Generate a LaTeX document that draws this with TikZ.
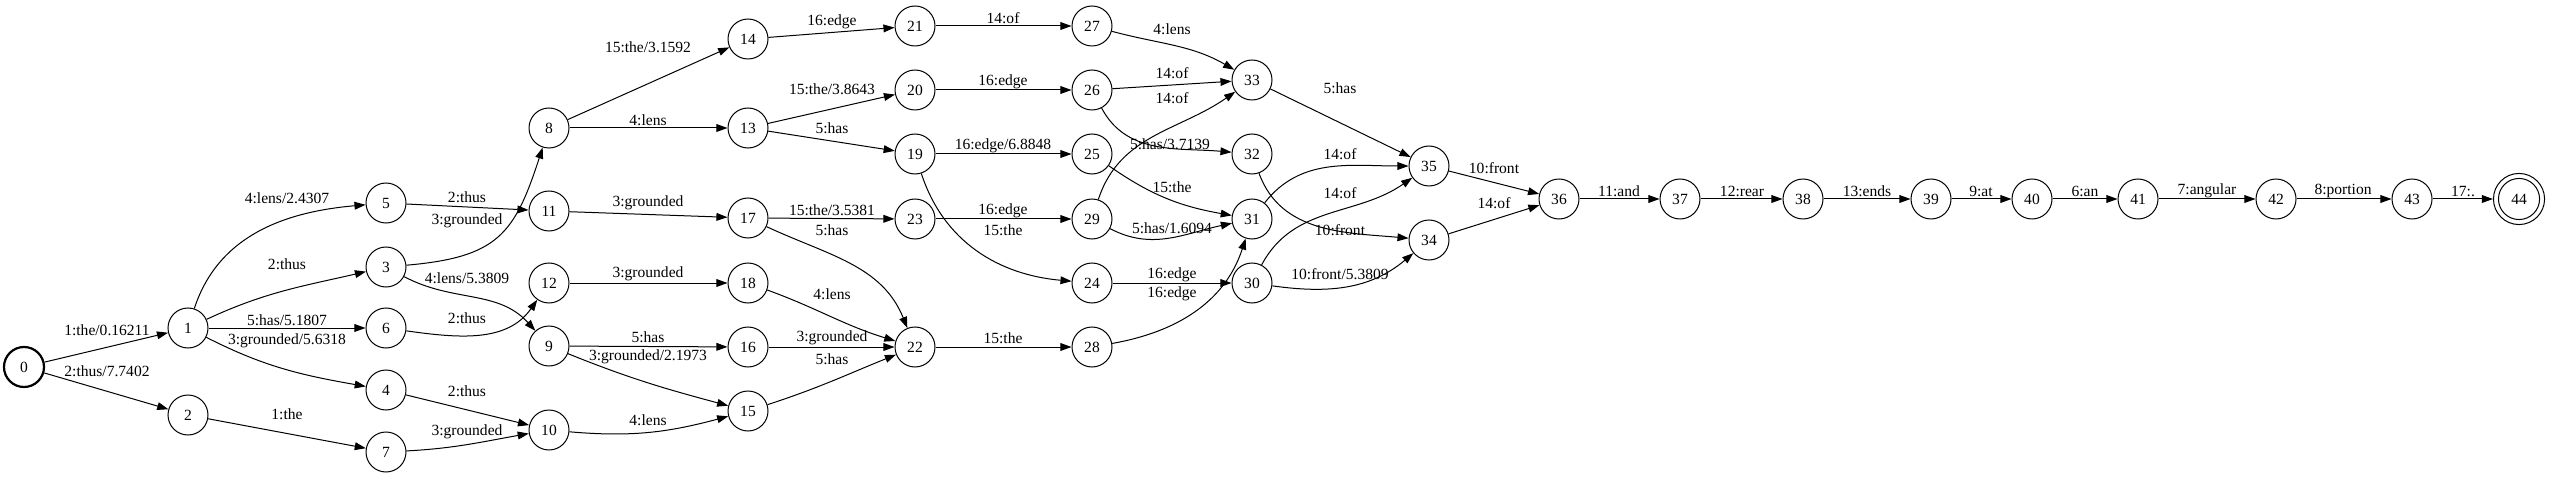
\documentclass[tikz,border=0pt]{standalone}
\usepackage{fontspec}
\setmainfont{Liberation Serif}
\usetikzlibrary{arrows.meta}

\begin{document}
\begin{tikzpicture}[x=0.9pt,y=0.9pt,font=\fontsize{14}{16}\selectfont,
	state/.style={circle,draw,line width=0.9pt,minimum size=36pt,inner sep=0pt},
	edge/.style={line width=0.9pt,-{Triangle[length=10pt,width=7pt]}},
	lbl/.style={inner sep=0pt}]
	\useasboundingbox (0,0) rectangle (2550,-477);
	% states
	\node[state,line width=2pt] (s0) at (24,-367) {0};
	\node[state] (s1) at (188,-328) {1};
	\node[state] (s2) at (188,-415) {2};
	\node[state] (s5) at (386,-203) {5};
	\node[state] (s3) at (386,-267) {3};
	\node[state] (s6) at (386,-328) {6};
	\node[state] (s4) at (386,-390) {4};
	\node[state] (s7) at (386,-452) {7};
	\node[state] (s8) at (549,-128) {8};
	\node[state] (s11) at (549,-211) {11};
	\node[state] (s12) at (549,-283) {12};
	\node[state] (s9) at (549,-346) {9};
	\node[state] (s10) at (549,-430) {10};
	\node[state] (s14) at (748,-39) {14};
	\node[state] (s13) at (748,-128) {13};
	\node[state] (s17) at (748,-218) {17};
	\node[state] (s18) at (748,-283) {18};
	\node[state] (s16) at (748,-347) {16};
	\node[state] (s15) at (748,-411) {15};
	\node[state] (s21) at (915,-26) {21};
	\node[state] (s20) at (915,-90) {20};
	\node[state] (s19) at (915,-154) {19};
	\node[state] (s23) at (915,-219) {23};
	\node[state] (s22) at (915,-347) {22};
	\node[state] (s27) at (1092,-26) {27};
	\node[state] (s26) at (1092,-90) {26};
	\node[state] (s25) at (1092,-154) {25};
	\node[state] (s29) at (1092,-219) {29};
	\node[state] (s24) at (1092,-283) {24};
	\node[state] (s28) at (1092,-347) {28};
	\node[state] (s33) at (1252,-80) {33};
	\node[state] (s32) at (1252,-154) {32};
	\node[state] (s31) at (1252,-219) {31};
	\node[state] (s30) at (1252,-283) {30};
	\node[state] (s35) at (1429,-166) {35};
	\node[state] (s34) at (1429,-240) {34};
	\node[state] (s36) at (1559,-199) {36};
	\node[state] (s37) at (1680,-199) {37};
	\node[state] (s38) at (1803,-199) {38};
	\node[state] (s39) at (1931,-199) {39};
	\node[state] (s40) at (2032,-199) {40};
	\node[state] (s41) at (2138,-199) {41};
	\node[state] (s42) at (2276,-199) {42};
	\node[state] (s43) at (2412,-199) {43};
	\node[state,minimum size=46pt] (s44) at (2519,-199) {44};
	\draw[line width=0.9pt] (s44.center) circle (18.5pt);
	% arcs
	\draw[edge] (s0) -- (s1) node[lbl] at (107,-330) {1:the/0.16211};
	\draw[edge] (s0) -- (s2) node[lbl] at (107,-371) {2:thus/7.7402};
	\draw[edge] (s1) to[out=72,in=185] (s5) node[lbl] at (287,-198) {4:lens/2.4307};
	\draw[edge] (s1) to[out=25,in=193] (s3) node[lbl] at (287,-264) {2:thus};
	\draw[edge] (s1) -- (s6) node[lbl] at (287,-320) {5:has/5.1807};
	\draw[edge] (s1) to[out=-27,in=170] (s4) node[lbl] at (287,-341) {3:grounded/5.6318};
	\draw[edge] (s2) -- (s7) node[lbl] at (287,-414) {1:the};
	\draw[edge] (s5) -- (s11) node[lbl] at (467,-197) {2:thus};
	\draw[edge] (s3) to[out=5,in=-108,looseness=1.3] (s8) node[lbl] at (467,-221) {3:grounded};
	\draw[edge] (s3) to[out=-28,in=132] (s9) node[lbl] at (467,-278) {4:lens/5.3809};
	\draw[edge] (s6) to[out=-8,in=-125] (s12) node[lbl] at (467,-318) {2:thus};
	\draw[edge] (s4) -- (s10) node[lbl] at (467,-391) {2:thus};
	\draw[edge] (s7) to[out=3,in=190] (s10) node[lbl] at (467,-432) {3:grounded};
	\draw[edge] (s8) -- (s14) node[lbl] at (648,-47) {15:the/3.1592};
	\draw[edge] (s8) -- (s13) node[lbl] at (648,-120) {4:lens};
	\draw[edge] (s11) -- (s17) node[lbl] at (648,-203) {3:grounded};
	\draw[edge] (s12) -- (s18) node[lbl] at (648,-274) {3:grounded};
	\draw[edge] (s9) -- (s16) node[lbl] at (648,-337) {5:has};
	\draw[edge] (s9) to[out=-22,in=165] (s15) node[lbl] at (648,-357) {3:grounded/2.1973};
	\draw[edge] (s10) to[out=-5,in=195] (s15) node[lbl] at (648,-420) {4:lens};
	\draw[edge] (s14) -- (s21) node[lbl] at (832,-22) {16:edge};
	\draw[edge] (s13) -- (s20) node[lbl] at (832,-89) {15:the/3.8643};
	\draw[edge] (s13) -- (s19) node[lbl] at (832,-128) {5:has};
	\draw[edge] (s17) -- (s23) node[lbl] at (832,-210) {15:the/3.5381};
	\draw[edge] (s17) to[out=-25,in=112] (s22) node[lbl] at (832,-230) {5:has};
	\draw[edge] (s18) to[out=-20,in=163] (s22) node[lbl] at (832,-294) {4:lens};
	\draw[edge] (s16) -- (s22) node[lbl] at (832,-338) {3:grounded};
	\draw[edge] (s15) to[out=18,in=-158] (s22) node[lbl] at (832,-359) {5:has};
	\draw[edge] (s21) -- (s27) node[lbl] at (1003,-18) {14:of};
	\draw[edge] (s20) -- (s26) node[lbl] at (1003,-82) {16:edge};
	\draw[edge] (s19) -- (s25) node[lbl] at (1003,-146) {16:edge/6.8848};
	\draw[edge] (s23) -- (s29) node[lbl] at (1003,-211) {16:edge};
	\draw[edge] (s19) to[out=-72,in=175] (s24) node[lbl] at (1003,-230) {15:the};
	\draw[edge] (s22) -- (s28) node[lbl] at (1003,-338) {15:the};
	\draw[edge] (s27) to[out=-15,in=150] (s33) node[lbl] at (1172,-29) {4:lens};
	\draw[edge] (s26) -- (s33) node[lbl] at (1172,-73) {14:of};
	\draw[edge] (s29) to[out=72,in=-145] (s33) node[lbl] at (1172,-98) {14:of};
	\draw[edge] (s26) to[out=-62,in=175] (s32) node[lbl] at (1170,-144) {5:has/3.7139};
	\draw[edge] (s25) to[out=-35,in=170] (s31) node[lbl] at (1172,-187) {15:the};
	\draw[edge] (s29) to[out=-28,in=192] (s31) node[lbl] at (1172,-228) {5:has/1.6094};
	\draw[edge] (s24) -- (s30) node[lbl] at (1172,-275) {16:edge};
	\draw[edge] (s28) to[out=10,in=-108] (s31) node[lbl] at (1172,-294) {16:edge};
	\draw[edge] (s33) -- (s35) node[lbl] at (1340,-88) {5:has};
	\draw[edge] (s31) to[out=52,in=180] (s35) node[lbl] at (1340,-154) {14:of};
	\draw[edge] (s30) to[out=62,in=-145] (s35) node[lbl] at (1340,-193) {14:of};
	\draw[edge] (s32) to[out=-70,in=175] (s34) node[lbl] at (1340,-230) {10:front};
	\draw[edge] (s30) to[out=-8,in=-140] (s34) node[lbl] at (1340,-274) {10:front/5.3809};
	\draw[edge] (s35) -- (s36) node[lbl] at (1494,-168) {10:front};
	\draw[edge] (s34) -- (s36) node[lbl] at (1494,-203) {14:of};
	\draw[edge] (s36) -- (s37) node[lbl] at (1619,-191) {11:and};
	\draw[edge] (s37) -- (s38) node[lbl] at (1742,-191) {12:rear};
	\draw[edge] (s38) -- (s39) node[lbl] at (1867,-191) {13:ends};
	\draw[edge] (s39) -- (s40) node[lbl] at (1981,-191) {9:at};
	\draw[edge] (s40) -- (s41) node[lbl] at (2085,-191) {6:an};
	\draw[edge] (s41) -- (s42) node[lbl] at (2207,-191) {7:angular};
	\draw[edge] (s42) -- (s43) node[lbl] at (2343,-191) {8:portion};
	\draw[edge] (s43) -- (s44) node[lbl] at (2463,-191) {17:.};
\end{tikzpicture}
\end{document}
